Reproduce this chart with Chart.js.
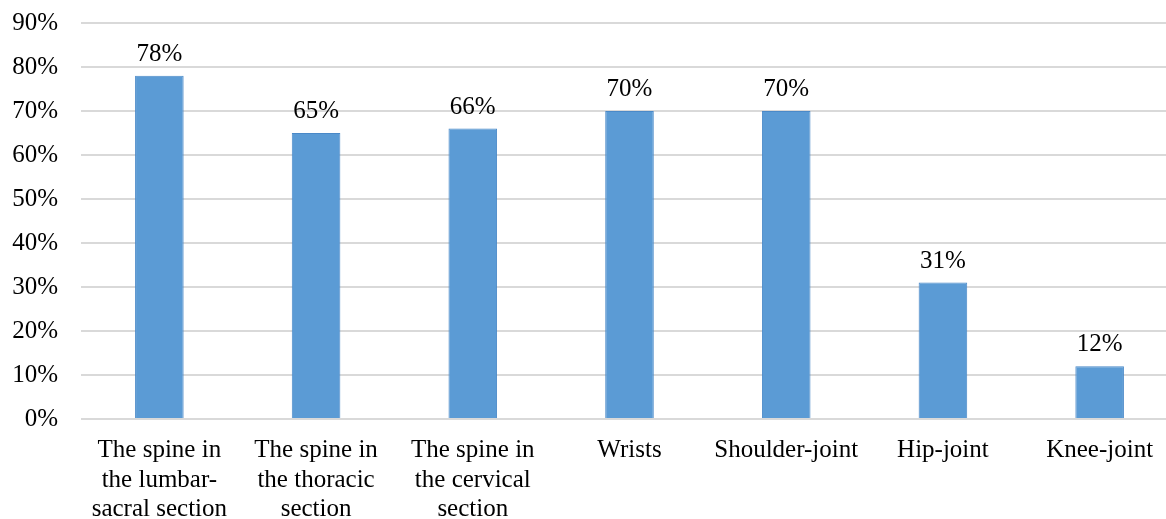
<!DOCTYPE html>
<html>
<head>
<meta charset="utf-8">
<script src="https://cdn.jsdelivr.net/npm/chart.js@4/dist/chart.umd.min.js"></script>
<style>
  html, body { margin: 0; padding: 0; background: #fff; overflow: hidden; }
  #wrap { width: 1178px; height: 534px; position: relative; top: -15px; }
</style>
</head>
<body>
<div id="wrap"><canvas id="chart"></canvas></div>
<script>
// Joint locations and share of respondents reporting pain (%)
const categories = [
  ['The spine in', 'the lumbar-', 'sacral section'],
  ['The spine in', 'the thoracic', 'section'],
  ['The spine in', 'the cervical', 'section'],
  'Wrists',
  'Shoulder-joint',
  'Hip-joint',
  'Knee-joint'
];
const shares = [78, 65, 66, 70, 70, 31, 12];
const yTicks = [0, 10, 20, 30, 40, 50, 60, 70, 80, 90];

const FONT = "'Liberation Serif', 'Times New Roman', serif";

// Writes each bar's percentage just above it
const valueLabels = {
  id: 'valueLabels',
  afterDatasetsDraw(chart) {
    const ctx = chart.ctx;
    const meta = chart.getDatasetMeta(0);
    ctx.save();
    ctx.font = '25px ' + FONT;
    ctx.fillStyle = '#000';
    ctx.textAlign = 'center';
    ctx.textBaseline = 'alphabetic';
    meta.data.forEach((bar, i) => {
      ctx.fillText(shares[i] + '%', bar.x, bar.y - 15);
    });
    ctx.restore();
  }
};

new Chart(document.getElementById('chart'), {
  type: 'bar',
  data: {
    labels: categories,
    datasets: [{
      data: shares,
      backgroundColor: '#5b9bd5',
      borderColor: '#4a89c8',
      borderWidth: 1,
      categoryPercentage: 1,
      barPercentage: 0.31
    }]
  },
  options: {
    responsive: true,
    maintainAspectRatio: false,
    animation: false,
    layout: { padding: 0 },
    plugins: { legend: { display: false }, tooltip: { enabled: false } },
    scales: {
      x: {
        grid: { display: false, drawTicks: false },
        border: { display: false },
        afterFit(axis) { axis.height = 100; },
        ticks: {
          color: '#000',
          font: { family: FONT, size: 25, lineHeight: 1.18 },
          maxRotation: 0,
          autoSkip: false,
          padding: 17
        }
      },
      y: {
        min: 0,
        max: 90,
        afterBuildTicks(axis) { axis.ticks = yTicks.map(v => ({ value: v })); },
        afterFit(axis) { axis.width = 81; },
        grid: { color: '#d9d9d9', lineWidth: 2, drawTicks: false },
        border: { display: false },
        ticks: {
          color: '#000',
          font: { family: FONT, size: 25 },
          padding: 23,
          callback: v => v + '%'
        }
      }
    }
  },
  plugins: [valueLabels]
});
</script>
</body>
</html>
